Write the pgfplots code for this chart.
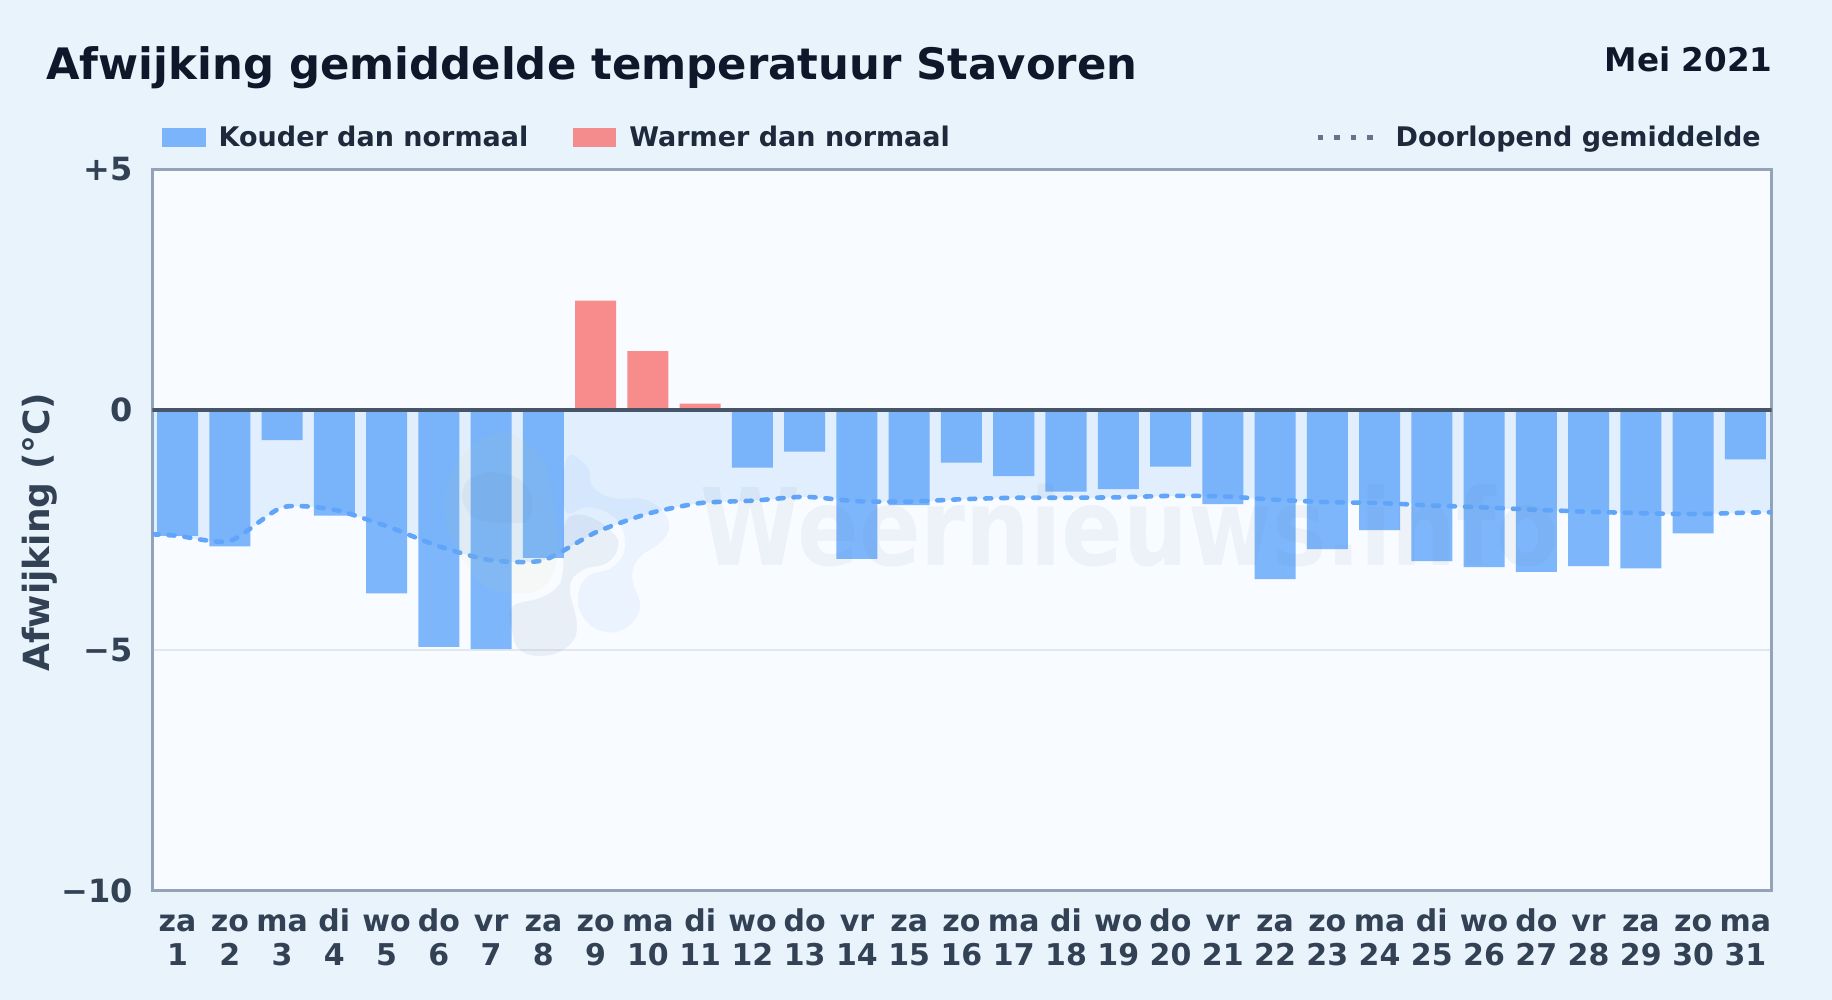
\documentclass[border=0pt]{standalone}
\usepackage{fontspec}
\setmainfont{DejaVu Sans}
\newfontfamily\wmfont[FakeStretch=0.85]{DejaVu Sans}
\usepackage{pgfplots}
\usepackage{pgfplotstable}
\pgfplotsset{compat=1.18}

\definecolor{pagebg}{HTML}{E8F3FC}
\definecolor{plotbg}{HTML}{F8FBFF}
\definecolor{frame}{HTML}{94A3B8}
\definecolor{zeroline}{HTML}{475569}
\definecolor{gridc}{HTML}{E2E8F0}
\definecolor{cold}{HTML}{60A5FA}
\definecolor{warm}{HTML}{F87171}
\definecolor{titlec}{HTML}{0F172A}
\definecolor{legc}{HTML}{1E293B}
\definecolor{tickc}{HTML}{334155}
\definecolor{legdot}{HTML}{64748B}
\definecolor{wmark}{HTML}{5B7FA8}
\definecolor{wmblue}{HTML}{60A5FA}
\definecolor{wmsun}{HTML}{C8D878}

\pgfplotstableread{
day dev
1 -2.62
2 -2.84
3 -0.63
4 -2.20
5 -3.82
6 -4.93
7 -4.98
8 -3.08
12 -1.20
13 -0.87
14 -3.10
15 -1.98
16 -1.10
17 -1.38
18 -1.70
19 -1.65
20 -1.18
21 -1.96
22 -3.52
23 -2.90
24 -2.50
25 -3.15
26 -3.27
27 -3.37
28 -3.25
29 -3.30
30 -2.57
31 -1.03
}\coldtable

\pgfplotstableread{
day dev
9 2.27
10 1.22
11 0.13
}\warmtable

\pgfplotstableread{
day mean
0.52 -2.59
1 -2.62
2 -2.73
3 -2.03
4 -2.08
5 -2.42
6 -2.84
7 -3.13
8 -3.13
9 -2.55
10 -2.16
11 -1.94
12 -1.89
13 -1.81
14 -1.90
15 -1.91
16 -1.86
17 -1.83
18 -1.83
19 -1.82
20 -1.79
21 -1.80
22 -1.87
23 -1.92
24 -1.94
25 -1.99
26 -2.03
27 -2.08
28 -2.12
29 -2.15
30 -2.17
31 -2.14
31.5 -2.13
}\meantable

\begin{document}
\begin{tikzpicture}[x=0.5pt,y=-0.5pt]
\path[use as bounding box,fill=pagebg] (0,0) rectangle (1832,1000);
\coordinate (ax) at (152.5,890.5);
\node[anchor=base west,inner sep=0pt,font=\bfseries\fontsize{21.67}{25}\selectfont,text=titlec] at (46,80) {Afwijking gemiddelde temperatuur Stavoren};
\node[anchor=base east,inner sep=0pt,font=\bfseries\fontsize{16.3}{18}\selectfont,text=titlec] at (1773,71.5) {Mei 2021};
\begin{axis}[
    at={(ax)}, anchor=south west,
    scale only axis,
    width=809.5pt, height=360.5pt,
    xmin=0.52, xmax=31.5,
    ymin=-10, ymax=5,
    axis background/.style={fill=plotbg},
    axis line style={frame,line width=1.5pt},
    major tick length=0pt,
    ytick={-10,-5,0,5},
    yticklabels={−10,−5,0,+5},
    xtick={1,...,31},
    xticklabels={{za\\1},{zo\\2},{ma\\3},{di\\4},{wo\\5},{do\\6},{vr\\7},{za\\8},{zo\\9},{ma\\10},{di\\11},{wo\\12},{do\\13},{vr\\14},{za\\15},{zo\\16},{ma\\17},{di\\18},{wo\\19},{do\\20},{vr\\21},{za\\22},{zo\\23},{ma\\24},{di\\25},{wo\\26},{do\\27},{vr\\28},{za\\29},{zo\\30},{ma\\31}},
    xticklabel style={align=center,font=\bfseries\fontsize{15}{17}\selectfont,text=tickc,inner sep=0pt,text height=11.5pt,yshift=-26pt},
    yticklabel style={font=\bfseries\fontsize{16}{18}\selectfont,text=tickc,inner sep=0pt,xshift=-9.6pt},
    ymajorgrids=true,
    grid style={gridc,line width=1pt},
    ylabel={Afwijking (°C)},
    ylabel style={at={(axis description cs:-0.0694,0.497)},anchor=center,font=\bfseries\fontsize{18}{21}\selectfont,text=tickc,inner sep=0pt},
    legend columns=3,
    legend cell align=left,
    legend style={at={(axis description cs:0.0058,1.0)},anchor=south west,yshift=8pt,draw=none,fill=none,inner sep=0pt,
      font=\bfseries\fontsize{13.5}{16}\selectfont,text=legc,
      /tikz/column 1/.style={column sep=4.2pt},
      /tikz/column 2/.style={column sep=20.25pt},
      /tikz/column 3/.style={column sep=4.75pt},
      /tikz/column 4/.style={column sep=180.7pt},
      /tikz/column 5/.style={column sep=8.25pt}},
]
% pale area between zero and the running mean
\addplot[forget plot,draw=none,fill=cold,fill opacity=0.15,smooth,tension=0.4] table[x=day,y=mean] {\meantable} \closedcycle;
\addplot[ybar,bar shift=0pt,bar width=0.785,draw=none,fill=cold,fill opacity=0.8,
    legend image code/.code={\fill[cold,opacity=0.8] (0pt,-4.75pt) rectangle (22pt,4.75pt);}]
    table[x=day,y=dev] {\coldtable};
\addlegendentry{Kouder dan normaal}
\addplot[ybar,bar shift=0pt,bar width=0.785,draw=none,fill=warm,fill opacity=0.8,
    legend image code/.code={\fill[warm,opacity=0.8] (0pt,-4.75pt) rectangle (21.5pt,4.75pt);}]
    table[x=day,y=dev] {\warmtable};
\addlegendentry{Warmer dan normaal}
\addplot[forget plot,zeroline,line width=1.75pt] coordinates {(0.52,0) (31.5,0)};
\addplot[cold,line width=2.3pt,smooth,tension=0.4,line cap=round,dash pattern=on 3pt off 5pt,
    legend image code/.code={\draw[legdot,line width=2.4pt,line cap=butt,dash pattern=on 2.75pt off 5.5pt] (0pt,0pt) -- (27.5pt,0pt);}]
    table[x=day,y=mean] {\meantable};
\addlegendentry{Doorlopend gemiddelde}
\end{axis}
% watermark
\node[anchor=base west,inner sep=0pt,font=\wmfont\bfseries\fontsize{53.5}{60}\selectfont,text=wmark,opacity=0.07] at (700,565) {Weernieuws.info};
\fill[wmsun,opacity=0.06] plot[smooth cycle,tension=0.8] coordinates {(445,500) (480,440) (530,445) (553,500) (553,573) (513,593) (470,570)};
\fill[wmblue,opacity=0.09] plot[smooth cycle,tension=0.7] coordinates {(567,458) (587,467) (593,487) (613,498) (647,500) (668,520) (663,540) (640,557) (632,577) (640,607) (627,627) (607,632) (587,622) (578,600) (587,577) (613,567) (625,547) (617,520) (590,507) (565,510)};
\fill[wmark,opacity=0.07] plot[smooth cycle,tension=0.8] coordinates {(462,493) (473,477) (500,473) (527,487) (530,517) (513,523) (480,520) (467,510)};
\fill[wmark,opacity=0.09] plot[smooth cycle,tension=0.7] coordinates {(587,516) (613,533) (618,547) (607,563) (583,570) (570,587) (577,627) (567,647) (543,656) (520,650) (512,630) (512,607) (540,598) (557,587) (563,570) (565,523)};
\end{tikzpicture}
\end{document}
